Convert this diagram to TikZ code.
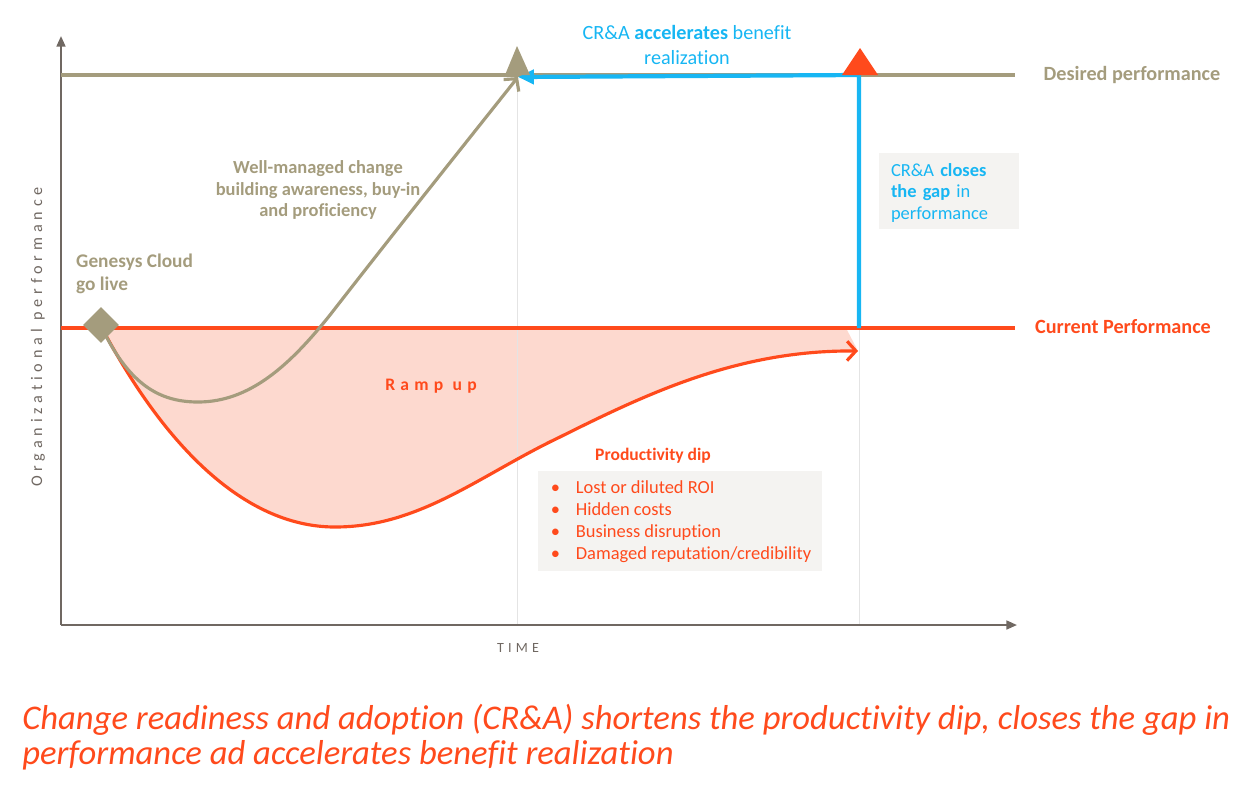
\documentclass[tikz,border=0pt]{standalone}
\usepackage{fontspec}
\setmainfont{Carlito}[Ligatures=NoCommon]
\newfontfamily\spacedfont[LetterSpace=30,Ligatures=NoCommon]{Carlito}
\newfontfamily\widefont[LetterSpace=30,Ligatures=NoCommon]{Carlito}
\usetikzlibrary{arrows.meta,positioning,calc,shapes.geometric}
\definecolor{khaki}{HTML}{A49C7D}
\definecolor{flame}{HTML}{FF4A1C}
\definecolor{sky}{HTML}{17B6F3}
\definecolor{blush}{HTML}{FDD9CF}
\definecolor{paper}{HTML}{F4F3F1}
\definecolor{axisgrey}{HTML}{706862}
\definecolor{guide}{HTML}{E4E4E4}

\begin{document}
\begin{tikzpicture}[x=0.02cm,y=-0.02cm,>=Latex,
  lbl/.style={font=\bfseries\fontsize{11}{13}\selectfont},
  note/.style={font=\fontsize{10.5}{12.5}\selectfont}]
\useasboundingbox (0,0) rectangle (1260,795);
% reference points
\coordinate (o) at (61,625);
\coordinate (ytop) at (61,36);
\coordinate (xend) at (1017,625);
\coordinate (desL) at (61,75);
\coordinate (desR) at (1015,75);
\coordinate (curL) at (61,328);
\coordinate (curR) at (1015,328);
\coordinate (peak) at (518,77);
\coordinate (dipend) at (858,351);
\coordinate (gapB) at (859,328);
\coordinate (gapT) at (859,75);
\coordinate (t1) at (517,625);
\coordinate (t2) at (859,625);

% productivity dip area
\fill[blush] (103,330) .. controls (170,455) and (250,527) .. (335,527)
  .. controls (420,527) and (480,475) .. (560,437)
  .. controls (650,392) and (740,350) .. (dipend) -- (846,328) -- cycle;

% time guides
\draw[guide,line width=0.5pt] (t1) -- (517,75);
\draw[guide,line width=0.5pt] (t2) -- (gapT);

% axes
\draw[axisgrey,line width=1.2pt,-{Triangle[length=6pt,width=5pt]}] (o) -- (ytop);
\draw[axisgrey,line width=1.2pt,-{Triangle[length=6pt,width=5pt]}] (o) -- (xend);

% performance levels
\draw[khaki,line width=1.8pt] (desL) -- (desR);
\draw[flame,line width=1.8pt] (curL) -- (curR);

% ramp curves
\draw[flame,line width=1.8pt,-{Straight Barb[length=5pt,width=11pt]}]
  (103,330) .. controls (170,455) and (250,527) .. (335,527)
  .. controls (420,527) and (480,475) .. (560,437)
  .. controls (650,392) and (740,350) .. (dipend);
\draw[khaki,line width=1.8pt,-{Straight Barb[length=5pt,width=11pt]}]
  (103,330) .. controls (130,385) and (160,402) .. (198,402)
  .. controls (250,402) and (290,365) .. (330,315)
  .. controls (400,225) and (460,150) .. (peak);

% CR&A gap closing
\draw[sky,line width=2.4pt,-{Triangle[length=9pt,width=8pt]}] (gapB) -- (gapT) -- (peak);

% markers
\node[diamond,fill=khaki,inner sep=0pt,minimum width=0.72cm,minimum height=0.72cm] (golive) at (101,325) {};
\fill[khaki] (505,75) -- (517,46) -- (530,75) -- cycle;
\fill[flame] (842,75) -- (860,48) -- (878,75) -- cycle;

% level labels
\node[text=khaki,font=\bfseries\fontsize{11.5}{13}\selectfont] (desired) at (1132,75) {Desired performance};
\node[text=flame,font=\bfseries\fontsize{11.5}{13}\selectfont] (current) at (1123,327) {Current Performance};

% annotations
\node[lbl,text=khaki,align=left,anchor=west] (golbl) at (70,274) {Genesys Cloud\\go live};
\node[text=khaki,align=center,font=\bfseries\fontsize{10.5}{12.5}\selectfont] (wellmgd) at (318,190)
  {Well-managed change\\building awareness, buy-in\\and proficiency};
\node[text=flame,font=\widefont\bfseries\fontsize{10}{12}\selectfont] (ramp) at (431,386) {Ramp up};
\node[text=sky,align=center,font=\fontsize{11.5}{14.2}\selectfont] (accel) at (687,45)
  {CR\&A \textbf{accelerates} benefit\\realization};
\node[fill=paper,minimum width=2.8cm,minimum height=1.54cm,inner sep=0pt] (gapbox) at (949,191) {};
\node[note,text=sky,text width=2.4cm,align=left] (gaptxt) at (951,193)
  {CR\&A \textbf{closes}\\\textbf{the gap} in\\performance};
\node[text=flame,font=\bfseries\fontsize{10}{12}\selectfont] (diplbl) at (653,456) {Productivity dip};
\node[fill=paper,minimum width=5.68cm,minimum height=2cm,inner sep=0pt] (dipbox) at (680,521) {};
\node[note,text=flame] (diptxt) at (681,522) {\def\arraystretch{1.0}%
  \begin{tabular}{@{}l@{\hspace{9pt}}l@{}}
  \textbullet & Lost or diluted ROI\\
  \textbullet & Hidden costs\\
  \textbullet & Business disruption\\
  \textbullet & Damaged reputation/credibility
  \end{tabular}};

% axis titles
\node[text=axisgrey,rotate=90,font=\spacedfont\fontsize{9.2}{11}\selectfont] (ylbl) at (38,337) {Organizational performance};
\node[text=axisgrey,font=\spacedfont\fontsize{8}{10}\selectfont] (xlbl) at (518,648) {TIME};

% caption
\node[text=flame,anchor=north west,align=left,inner sep=0pt,
  font=\itshape\fontsize{19.7}{19.8}\selectfont] (caption) at (22,704)
  {Change readiness and adoption (CR\&A) shortens the productivity dip, closes the gap in\\
   performance ad accelerates benefit realization};
\end{tikzpicture}
\end{document}
